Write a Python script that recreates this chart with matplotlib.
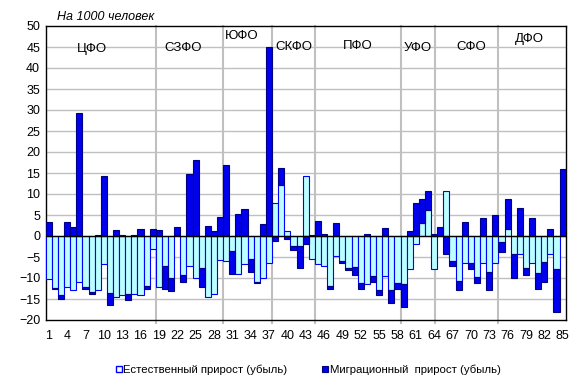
import numpy as np
import matplotlib
matplotlib.use("Agg")
import matplotlib.pyplot as plt
from matplotlib.lines import Line2D

plt.rcParams['font.family'] = ['Liberation Sans', 'DejaVu Sans']

regions = list(range(1, 86))
natural = [-10.2, -12.3, -14.0, -12.2, -12.9, -10.9, -12.2, -13.3, -12.9, -6.7,
           -13.5, -14.6, -14.0, -13.7, -13.8, -14.1, -12.0, -3.1, -12.2, -7.1,
           -10.1, 0.3, -9.4, -7.1, -10.1, -7.5, -14.6, -13.7, -5.8, -6.0,
           -3.5, -9.1, -6.6, -5.5, -10.9, -10.0, -6.5, 7.9, 12.1, 1.2,
           -2.4, -2.4, 14.3, -5.5, -6.7, -7.1, -11.9, -4.8, -6.0, -7.6,
           -7.4, -11.3, -11.5, -9.6, -12.8, -9.6, -12.8, -11.3, -11.5, -7.9,
           -2.0, 3.2, 6.3, -7.9, 0.0, 10.8, -6.0, -10.6, -6.5, -6.5,
           -9.8, -6.5, -8.6, -6.5, -1.35, 1.75, -4.4, -4.4, -7.7, -6.5,
           -8.9, -6.3, -4.4, -7.9, 0.0]
migration = [3.3, -0.4, -0.9, 3.3, 2.1, 29.2, -0.4, -0.4, 0.15, 14.3,
             -2.9, 1.35, 0.2, -1.5, 0.15, 1.6, -0.5, 1.6, 1.4, -5.6,
             -2.9, 1.8, -1.5, 14.8, 18.0, -4.6, 2.3, 1.2, 4.5, 16.8,
             -5.6, 5.2, 6.4, -3.0, -0.4, 2.9, 44.9, -1.1, 4.1, -0.6,
             -0.9, -5.3, -1.8, 0.15, 3.6, 0.5, -0.8, 3.1, -0.5, -0.6,
             -2.0, -1.4, 0.5, -1.3, -1.3, 1.8, -3.1, -1.4, -5.5, 1.2,
             7.9, 5.5, 4.3, 0.5, 2.1, -4.4, -1.1, -2.3, 3.3, -1.3,
             -1.5, 4.4, -4.3, 5.0, -2.55, 7.0, -5.7, 6.6, -1.7, 4.4,
             -3.8, -4.6, 1.6, -10.1, 15.9]
districts = ['ЦФО', 'СЗФО', 'ЮФО', 'СКФО', 'ПФО', 'УФО', 'СФО', 'ДФО']
district_label_x = [8.0, 23.0, 32.5, 41.0, 51.5, 61.3, 70.0, 79.6]
district_label_y = [44.5, 44.7, 47.6, 45.0, 45.3, 44.8, 44.9, 47.0]
separators = [18.5, 29.5, 37.5, 44.5, 58.5, 64.1, 74.5]
xtick_labels = list(range(1, 86, 3))
yticks = list(range(-20, 51, 5))

x = np.array(regions)
nat = np.array(natural)
mig = np.array(migration)
mig_bottom = np.where(np.sign(mig) == np.sign(nat), nat, 0.0)

fig = plt.figure(figsize=(5.8, 3.91), dpi=100)
ax = fig.add_axes([45.7 / 580, 1 - 320 / 391, 520 / 580, 294 / 391])

ax.bar(x, nat, width=1.0, color='#BBFFFF', edgecolor='#0000FF', linewidth=0.8, zorder=3)
ax.bar(x, mig, width=1.0, bottom=mig_bottom, color='#0000EE', edgecolor='#000080',
       linewidth=0.8, zorder=3)

ax.set_xlim(0.5, 85.5)
ax.set_ylim(-20, 50)
ax.set_yticks(yticks)
ax.set_xticks(xtick_labels)
ax.tick_params(axis='both', length=0, labelsize=9, colors='black')
ax.tick_params(axis='x', pad=7)
ax.tick_params(axis='y', pad=4)
for yv in yticks:
    if -20 < yv < 50 and yv != 0:
        ax.axhline(yv, color='#C0C0C0', linewidth=1.0, zorder=1)
ax.axhline(0, color='black', linewidth=1.0, zorder=4)
for s in ax.spines.values():
    s.set_color('black')
    s.set_linewidth(1.0)

for sx in separators:
    ax.plot([sx, sx], [-20.7, 50], color='#C0C0C0', linewidth=1.5, zorder=2, clip_on=False)

for name, lx, ly in zip(districts, district_label_x, district_label_y):
    ax.text(lx, ly, name, ha='center', va='center', fontsize=9.5, zorder=5)

fig.text(57 / 580, 1 - 17 / 391, 'На 1000 человек', fontsize=9, style='italic',
         ha='left', va='center')

handles = [Line2D([], [], marker='s', linestyle='none', markersize=5,
                  markerfacecolor='white', markeredgecolor='#0000FF', markeredgewidth=1.0),
           Line2D([], [], marker='s', linestyle='none', markersize=5,
                  markerfacecolor='#0000EE', markeredgecolor='#000080', markeredgewidth=0.8)]
fig.legend(handles, ['Естественный прирост (убыль)', 'Миграционный  прирост (убыль)'],
           loc='center', bbox_to_anchor=(308 / 580, 1 - 370 / 391), ncol=2, frameon=False,
           fontsize=8.2, handlelength=0.6, handletextpad=0.1, columnspacing=3.0)

fig.savefig('out.png', dpi=100)
